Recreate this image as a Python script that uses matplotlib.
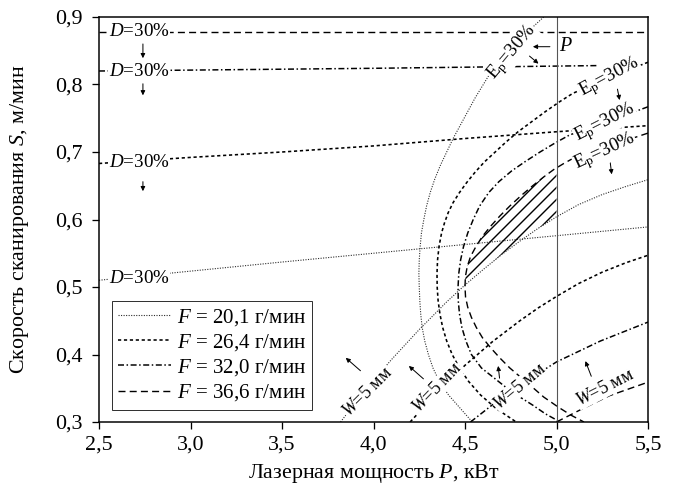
import matplotlib.pyplot as plt
import numpy as np

plt.rcParams['font.family'] = 'Liberation Serif'
plt.rcParams['mathtext.fontset'] = 'custom'
plt.rcParams['mathtext.rm'] = 'Liberation Serif'
plt.rcParams['mathtext.it'] = 'Liberation Serif:italic'
plt.rcParams['hatch.linewidth'] = 1.4

# powder feed rates F, g/min
feeds = ['20,1', '26,4', '32,0', '36,6']

# laser power limit, kW
p_max = 5.0

# D = 30 % limit (P, S)
d20_P = [2.5, 3.5, 4.5, 5.5]
d20_S = [0.510, 0.537, 0.563, 0.589]
d26_P = [2.5, 3.0, 3.5, 4.0, 4.5, 5.0, 5.5]
d26_S = [0.683, 0.692, 0.700, 0.709, 0.720, 0.730, 0.739]
d32_P = [2.5, 4.0, 5.22]
d32_S = [0.820, 0.824, 0.828]
d36_P = [2.5, 5.5]
d36_S = [0.878, 0.878]

# E_p = 30 % limit
ep20_S = [0.90, 0.88, 0.86, 0.84, 0.82, 0.80, 0.78, 0.76, 0.74, 0.72, 0.70, 0.68, 0.66, 0.64, 0.62, 0.60,
          0.58, 0.56, 0.54, 0.52, 0.50, 0.48, 0.46, 0.44, 0.42, 0.40, 0.38, 0.36, 0.34, 0.32, 0.30]
ep20_P = [4.93, 4.85, 4.77, 4.70, 4.645, 4.60, 4.555, 4.515, 4.475, 4.435, 4.40, 4.365, 4.335, 4.31, 4.29,
          4.275, 4.262, 4.255, 4.25, 4.248, 4.25, 4.253, 4.258, 4.266, 4.28, 4.30, 4.325, 4.36, 4.41, 4.475, 4.54]
ep26_S = [0.833, 0.82, 0.81, 0.80, 0.787, 0.775, 0.76, 0.745, 0.73, 0.715, 0.70, 0.685, 0.67, 0.655, 0.64,
          0.625, 0.61, 0.595, 0.58, 0.56, 0.54, 0.52, 0.50, 0.48, 0.46, 0.44, 0.42, 0.40, 0.38, 0.36, 0.34,
          0.32, 0.30]
ep26_P = [5.50, 5.38, 5.29, 5.20, 5.09, 5.02, 4.94, 4.865, 4.79, 4.725, 4.665, 4.605, 4.555, 4.51, 4.47,
          4.435, 4.408, 4.388, 4.372, 4.358, 4.35, 4.347, 4.348, 4.353, 4.363, 4.378, 4.40, 4.43, 4.47, 4.52,
          4.585, 4.67, 4.78]
ep32_S = [0.767, 0.757, 0.747, 0.736, 0.725, 0.713, 0.70, 0.686, 0.672, 0.656, 0.64, 0.62, 0.60, 0.58, 0.56,
          0.54, 0.52, 0.50, 0.48, 0.46, 0.44, 0.42, 0.40, 0.38, 0.365, 0.35, 0.337, 0.325, 0.312, 0.30]
ep32_P = [5.50, 5.40, 5.29, 5.18, 5.07, 4.99, 4.91, 4.83, 4.755, 4.685, 4.63, 4.58, 4.545, 4.515, 4.492,
          4.476, 4.466, 4.462, 4.463, 4.47, 4.483, 4.505, 4.535, 4.59, 4.66, 4.73, 4.80, 4.87, 4.94, 5.02]
ep36_S = [0.728, 0.719, 0.710, 0.701, 0.692, 0.683, 0.674, 0.663, 0.65, 0.635, 0.62, 0.605, 0.59, 0.575,
          0.56, 0.545, 0.53, 0.515, 0.50, 0.485, 0.47, 0.455, 0.44, 0.425, 0.41, 0.395, 0.38, 0.365, 0.35,
          0.337, 0.322, 0.31, 0.30]
ep36_P = [5.50, 5.40, 5.29, 5.19, 5.10, 5.04, 4.985, 4.93, 4.87, 4.805, 4.745, 4.69, 4.64, 4.595, 4.56,
          4.53, 4.512, 4.502, 4.50, 4.503, 4.515, 4.535, 4.562, 4.595, 4.64, 4.69, 4.745, 4.81, 4.875, 4.93,
          5.01, 5.08, 5.15]

# W = 5 mm limit
w20_P = [3.82, 3.95, 4.10, 4.25, 4.40, 4.50, 4.60, 4.70, 4.80, 4.90, 5.00, 5.12, 5.25, 5.38, 5.50]
w20_S = [0.300, 0.346, 0.393, 0.437, 0.478, 0.503, 0.526, 0.548, 0.568, 0.587, 0.604, 0.622, 0.637, 0.649,
         0.659]
w26_P = [4.20, 4.35, 4.50, 4.65, 4.80, 4.90, 5.00, 5.12, 5.25, 5.38, 5.50]
w26_S = [0.300, 0.344, 0.384, 0.419, 0.450, 0.469, 0.486, 0.505, 0.522, 0.536, 0.547]
w32_P = [4.53, 4.69, 4.86, 5.00, 5.24, 5.50]
w32_S = [0.300, 0.334, 0.365, 0.389, 0.420, 0.448]
w36_P = [5.00, 5.13, 5.29, 5.50]
w36_S = [0.300, 0.318, 0.339, 0.359]

styles = {
    '20,1': dict(color='#2a2a2a', lw=1.1, dashes=(1.0, 1.3)),
    '26,4': dict(color='k', lw=1.6, dashes=(2.0, 1.7)),
    '32,0': dict(color='k', lw=1.5, dashes=(4.0, 1.7, 1.0, 1.7)),
    '36,6': dict(color='k', lw=1.4, dashes=(5.0, 3.0)),
}

curves = {
    '20,1': [(d20_P, d20_S), (ep20_P, ep20_S), (w20_P, w20_S)],
    '26,4': [(d26_P, d26_S), (ep26_P, ep26_S), (w26_P, w26_S)],
    '32,0': [(d32_P, d32_S), (ep32_P, ep32_S), (w32_P, w32_S)],
    '36,6': [(d36_P, d36_S), (ep36_P, ep36_S), (w36_P, w36_S)],
}

fig = plt.figure(figsize=(675 / 72, 497 / 72), dpi=72)
ax = fig.add_axes([99 / 675, 75 / 497, 549 / 675, 405 / 497])

for f in feeds:
    for i, (px, sy) in enumerate(curves[f]):
        ax.plot(px, sy, label=f'$F$ = {f} г/мин' if i == 0 else None, **styles[f])

ax.axvline(p_max, color='#555555', lw=1.1)

# feasible window: inside the F=36,6 E_p arc, above the F=20,1 W line, P <= p_max
ep36_P_a, ep36_S_a = np.array(ep36_P), np.array(ep36_S)
w20_P_a, w20_S_a = np.array(w20_P), np.array(w20_S)
top = (ep36_P_a <= p_max) & (ep36_S_a >= 0.505)
bot = (w20_P_a >= 4.5) & (w20_P_a <= p_max)
s_corner = np.interp(p_max, ep36_P_a[:8][::-1], ep36_S_a[:8][::-1])
poly_P = np.concatenate([[p_max], ep36_P_a[top], w20_P_a[bot]])
poly_S = np.concatenate([[s_corner], ep36_S_a[top], w20_S_a[bot]])
ax.fill(poly_P, poly_S, facecolor='none', edgecolor='k', hatch='//', lw=0)

lbl = dict(ha='center', va='center', fontsize=19, zorder=5,
           bbox=dict(fc='white', ec='none', pad=0.3))

# D labels and arrows
for s in [0.878, 0.820, 0.684, 0.512]:
    ax.text(2.72, s, '$D$=30%', **lbl)
arr = dict(arrowstyle='-|>', color='k', lw=1.0, mutation_scale=9)
for s0, s1 in [(0.863, 0.836), (0.804, 0.781), (0.659, 0.639)]:
    ax.annotate('', xy=(2.74, s1), xytext=(2.74, s0), arrowprops=arr)

# E_p labels
ep_text = r'$\mathrm{E}_\mathrm{p}$=30%'
for (p, s, r) in [(4.757, 0.848, 50), (5.29, 0.811, 28), (5.265, 0.743, 27), (5.265, 0.700, 25)]:
    ax.text(p, s, ep_text, rotation=r, rotation_mode='anchor', **lbl)
for (p0, s0, p1, s1) in [(4.844, 0.844, 4.91, 0.829), (5.331, 0.796, 5.347, 0.774),
                         (5.292, 0.688, 5.303, 0.664)]:
    ax.annotate('', xy=(p1, s1), xytext=(p0, s0), arrowprops=arr)

# W labels
for (p, s, r) in [(3.97, 0.344, 45), (4.347, 0.350, 46), (4.80, 0.352, 40), (5.265, 0.350, 27)]:
    ax.text(p, s, '$W$=5 мм', rotation=r, rotation_mode='anchor',
            **{**lbl, 'fontsize': 18})
for (p0, s0, p1, s1) in [(3.937, 0.374, 3.84, 0.397), (4.281, 0.362, 4.185, 0.385),
                         (4.69, 0.362, 4.68, 0.386), (5.194, 0.365, 5.154, 0.393)]:
    ax.annotate('', xy=(p1, s1), xytext=(p0, s0), arrowprops=arr)

# power limit marker
ax.annotate('', xy=(4.86, 0.856), xytext=(4.975, 0.856), arrowprops=arr)
ax.text(5.015, 0.856, '$P$', ha='left', va='center', fontsize=20)

ax.set_xlim(2.5, 5.5)
ax.set_ylim(0.3, 0.9)
xt = np.arange(2.5, 5.51, 0.5)
yt = np.arange(0.3, 0.91, 0.1)
ax.set_xticks(xt)
ax.set_xticklabels([f'{v:.1f}'.replace('.', ',') for v in xt])
ax.set_yticks(yt)
ax.set_yticklabels([f'{v:.1f}'.replace('.', ',') for v in yt])
ax.tick_params(direction='out', length=7, width=1.3, labelsize=22)
ax.tick_params(axis='x', pad=7)
ax.tick_params(axis='y', pad=9)
for sp in ax.spines.values():
    sp.set_linewidth(1.5)

ax.set_xlabel('Лазерная мощность $P$, кВт', fontsize=22)
ax.set_ylabel('Скорость сканирования $S$, м/мин', fontsize=22)
ax.xaxis.set_label_coords(0.5, -0.098)
ax.yaxis.set_label_coords(-0.124, 0.5)

leg = ax.legend(loc='lower left', bbox_to_anchor=(0.016, 0.02), fontsize=21,
                fancybox=False, edgecolor='#333333', framealpha=1,
                handlelength=2.5, handletextpad=0.3, labelspacing=0.2,
                borderpad=0.3, borderaxespad=0.2)
leg.get_frame().set_linewidth(1.0)

fig.savefig('out.png', dpi=72)
